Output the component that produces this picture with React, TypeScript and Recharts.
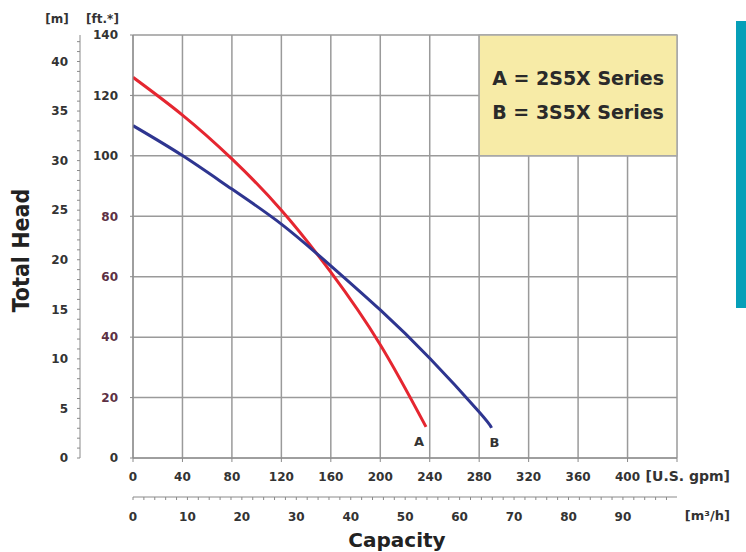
import { CartesianGrid, Label, Line, LineChart, ReferenceArea, XAxis, YAxis } from "recharts";

// pump curves (capacity in U.S. gpm, head in ft)
const gpmA = [0, 40, 80, 120, 160, 200, 237];
const headA = [126, 113.5, 99, 82, 61.5, 37.5, 10.3];
const gpmB = [0, 40, 80, 120, 160, 200, 240, 280, 290];
const headB = [110, 100.1, 89, 77.4, 63.6, 49, 33, 15.2, 10];

const gpmTicks = [0, 40, 80, 120, 160, 200, 240, 280, 320, 360, 400, 440];
const ftTicks = [0, 20, 40, 60, 80, 100, 120, 140];
const mLabels = [0, 5, 10, 15, 20, 25, 30, 35, 40];
const m3Labels = [0, 10, 20, 30, 40, 50, 60, 70, 80, 90];

const GPM_PER_M3H = 4.403;
const FT_PER_M = 3.28084;

const mTicks = Array.from({ length: 43 }, (_, i) => i);
const m3Ticks = Array.from({ length: 50 }, (_, i) => i * 2);

const curveA = gpmA.map((q, i) => ({ q, m: q / GPM_PER_M3H, h: headA[i] }));
const curveB = gpmB.map((q, i) => ({ q, m: q / GPM_PER_M3H, h: headB[i] }));

const FONT = "'DejaVu Sans', sans-serif";
const tickStyle = { fill: "#333", fontSize: 12, fontWeight: "bold", fontFamily: FONT };
const axisGray = "#8a8a8a";

// the lower ft labels are printed in a dark maroon in the original
const FtTick = (p: any) => {
    const v = p.payload.value;
    const fill = v > 0 && v <= 80 ? "#5c3044" : "#333";
    return (
        <text x={p.x} y={p.y} dy="0.355em" textAnchor="end" fontSize={12} fontWeight="bold" fontFamily={FONT} fill={fill}>
            {v}
        </text>
    );
};

const endLabel = (name: string, last: number, dx: number) => (p: any) => {
    if (p.index !== last) return <g />;
    return (
        <text x={p.x + dx} y={p.y + 19} textAnchor="middle" fontSize={13} fontWeight="bold" fontFamily={FONT} fill="#333">
            {name}
        </text>
    );
};

const legendBox = (props: any) => {
    const { x, y, width } = props.viewBox;
    const cx = x + width / 2;
    return (
        <text textAnchor="middle" fontSize={19} fontWeight="bold" fontFamily={FONT} fill="#2a2a2a">
            <tspan x={cx} y={y + 50}>A = 2S5X Series</tspan>
            <tspan x={cx} y={y + 84}>B = 3S5X Series</tspan>
        </text>
    );
};

export default function App() {
    return (
        <div style={{ position: "absolute", left: 0, top: 0, width: 746, height: 552, background: "#fff", fontFamily: FONT }}>
            <LineChart width={746} height={552} margin={{ top: 35, right: 69, left: 0, bottom: 0 }}>
                <CartesianGrid xAxisId="gpm" yAxisId="ft" stroke="#9a9a9a" strokeWidth={1.5} />
                <XAxis
                    xAxisId="gpm"
                    type="number"
                    dataKey="q"
                    domain={[0, 440]}
                    ticks={gpmTicks}
                    interval={0}
                    tickFormatter={(v: number) => (v === 440 ? "" : String(v))}
                    height={39}
                    tickSize={4}
                    tickMargin={10}
                    tick={tickStyle}
                    stroke={axisGray}
                    allowDataOverflow
                >
                    <Label value="[U.S. gpm]" position="insideRight" offset={-53} dy={-1} fontSize={14} fontWeight="bold" fontFamily={FONT} fill="#333" />
                </XAxis>
                <XAxis
                    xAxisId="m3"
                    type="number"
                    dataKey="m"
                    domain={[0, 440 / GPM_PER_M3H]}
                    ticks={m3Ticks}
                    interval={0}
                    tickFormatter={(v: number) => (m3Labels.includes(v) ? String(v) : "")}
                    height={55}
                    tickSize={3}
                    tickMargin={12}
                    tick={tickStyle}
                    stroke={axisGray}
                    allowDataOverflow
                >
                    <Label value="[m³/h]" position="insideRight" offset={-53} dy={-9} fontSize={13} fontWeight="bold" fontFamily={FONT} fill="#333" />
                    <Label value="Capacity" position="insideBottom" offset={5} dx={-8} fontSize={20} fontWeight="bold" fontFamily={FONT} fill="#222" />
                </XAxis>
                <YAxis
                    yAxisId="ft"
                    type="number"
                    domain={[0, 140]}
                    ticks={ftTicks}
                    interval={0}
                    width={53}
                    tickSize={3}
                    tickMargin={12}
                    tick={<FtTick />}
                    stroke={axisGray}
                    allowDataOverflow
                >
                    <Label value="[ft.*]" position="top" offset={12} dx={-4} fontSize={12} fontWeight="bold" fontFamily={FONT} fill="#333" />
                </YAxis>
                <YAxis
                    yAxisId="m"
                    type="number"
                    domain={[0, 140 / FT_PER_M]}
                    ticks={mTicks}
                    interval={0}
                    tickFormatter={(v: number) => (mLabels.includes(v) ? String(v) : "")}
                    width={80}
                    tickSize={3}
                    tickMargin={9}
                    tick={tickStyle}
                    stroke={axisGray}
                    allowDataOverflow
                >
                    <Label value="[m]" position="top" offset={12} dx={17} fontSize={12} fontWeight="bold" fontFamily={FONT} fill="#333" />
                    <Label
                        value="Total Head"
                        position="insideLeft"
                        angle={-90}
                        offset={21}
                        dy={4}
                        fontSize={23}
                        fontWeight="bold"
                        fontFamily="'DejaVu Sans Condensed', 'Liberation Sans Narrow', 'DejaVu Sans', sans-serif"
                        fill="#222"
                        style={{ textAnchor: "middle" }}
                    />
                </YAxis>
                <ReferenceArea
                    xAxisId="gpm"
                    yAxisId="ft"
                    x1={280}
                    x2={440}
                    y1={100}
                    y2={140}
                    fill="#f7eba7"
                    fillOpacity={1}
                    stroke="#a8a8a8"
                    strokeWidth={1.5}
                    label={legendBox}
                />
                {/* same curve on the metric axis, kept invisible so that axis gets its ticks */}
                <Line
                    xAxisId="m3"
                    yAxisId="ft"
                    data={curveA}
                    dataKey="h"
                    stroke="none"
                    dot={false}
                    activeDot={false}
                    isAnimationActive={false}
                />
                <Line
                    xAxisId="gpm"
                    yAxisId="ft"
                    data={curveA}
                    dataKey="h"
                    type="natural"
                    stroke="#e52630"
                    strokeWidth={3}
                    dot={false}
                    isAnimationActive={false}
                    label={endLabel("A", curveA.length - 1, -7)}
                />
                <Line
                    xAxisId="gpm"
                    yAxisId="ft"
                    data={curveB}
                    dataKey="h"
                    type="natural"
                    stroke="#2e3590"
                    strokeWidth={3}
                    dot={false}
                    isAnimationActive={false}
                    label={endLabel("B", curveB.length - 1, 3)}
                />
            </LineChart>
            <div style={{ position: "absolute", left: 736, top: 21, width: 10, height: 287, background: "#069fb8" }} />
        </div>
    );
}
